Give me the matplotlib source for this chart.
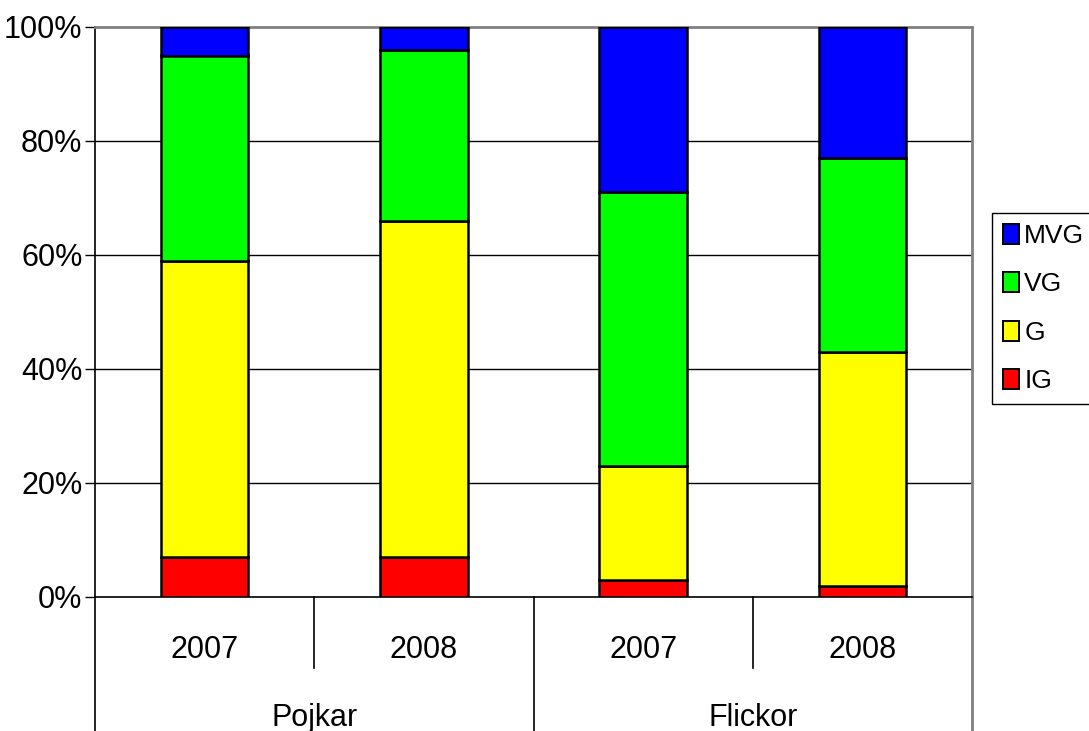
import matplotlib
matplotlib.use("Agg")
import matplotlib.pyplot as plt
from matplotlib.patches import Patch
import numpy as np

plt.rcParams['font.family'] = ['Liberation Sans', 'DejaVu Sans']

groups = ["Pojkar", "Flickor"]
years = ["2007", "2008", "2007", "2008"]
series_names = ["IG", "G", "VG", "MVG"]
series_colors = ["#ff0000", "#ffff00", "#00ff00", "#0000ff"]
IG = [7, 7, 3, 2]
G = [52, 59, 20, 41]
VG = [36, 30, 48, 34]
MVG = [5, 4, 29, 23]

W, H = 1089, 731
FS = 22
fig = plt.figure(figsize=(W / 100, H / 100), dpi=100)
L, R, T, B = 95, 972, 27, 597
ax = fig.add_axes([L / W, 1 - B / H, (R - L) / W, (B - T) / H])

x = np.arange(len(years))
bottom = np.zeros(len(years))
handles = []
for name, vals, col in zip(series_names, [IG, G, VG, MVG], series_colors):
    v = np.array(vals, dtype=float)
    ax.bar(x, v, 0.4, bottom=bottom, color=col, edgecolor="black", linewidth=1.8, zorder=3)
    bottom += v
    handles.append(Patch(facecolor=col, edgecolor="black", linewidth=1.4, label=name))

ax.set_xlim(-0.5, len(years) - 0.5)
ax.set_ylim(0, 100)
ax.set_yticks([0, 20, 40, 60, 80, 100])
ax.set_yticklabels(["0%", "20%", "40%", "60%", "80%", "100%"], fontsize=FS)
ax.tick_params(axis="y", length=7, width=1, direction="out", pad=2)
ax.set_xticks([])
for yv in [20, 40, 60, 80]:
    ax.axhline(yv, color="black", linewidth=1, zorder=1)
ax.spines["top"].set_color("#808080")
ax.spines["top"].set_linewidth(2)
ax.spines["right"].set_color("#808080")
ax.spines["right"].set_linewidth(2)
ax.spines["left"].set_linewidth(1.2)
ax.spines["bottom"].set_linewidth(1.2)

# multi-level category axis
trans = ax.get_xaxis_transform()
bottom_fig_y = -(H - B) / (B - T)
short_y = -(668 - B) / (B - T)
n = len(years)
for i in range(n + 1):
    xp = i - 0.5
    y_end = bottom_fig_y if i % 2 == 0 else short_y
    col = "#808080" if i == n else "black"
    ax.plot([xp, xp], [0, y_end], transform=trans, color=col,
            linewidth=1.2 if i < n else 2, clip_on=False)
year_y = -(650 - B) / (B - T)
for i, yr in enumerate(years):
    ax.text(i, year_y, yr, transform=trans, ha="center", va="center", fontsize=FS)
group_y = -(718 - B) / (B - T)
for gi, g in enumerate(groups):
    ax.text(gi * 2 + 0.5, group_y, g, transform=trans, ha="center", va="center", fontsize=FS)

leg = fig.legend(handles=handles[::-1], loc="upper left",
                 bbox_to_anchor=(992 / W, 1 - 213 / H), fontsize=19,
                 frameon=True, fancybox=False, shadow=False, framealpha=1,
                 edgecolor="black", handlelength=0.62, handleheight=0.8,
                 handletextpad=0.2, labelspacing=0.92, borderpad=0.4,
                 borderaxespad=0)
leg.get_frame().set_linewidth(1)

fig.savefig("out.png", dpi=100)
